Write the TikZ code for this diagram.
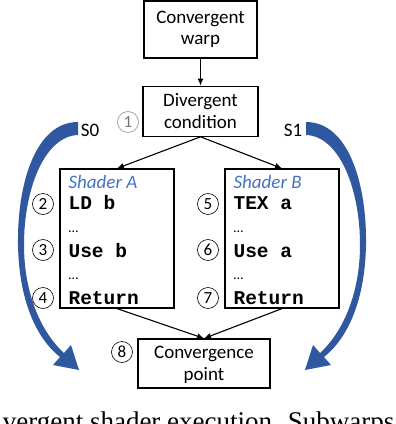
\documentclass[tikz,border=0pt]{standalone}
\usepackage{fontspec}
\setmainfont{Carlito}
\setmonofont{Liberation Mono}
\newfontfamily\capfont{Liberation Serif}
\usetikzlibrary{arrows.meta,positioning}
\definecolor{sgblue}{RGB}{47,88,160}
\definecolor{sglabel}{RGB}{68,114,196}
\newcommand{\subwarparc}{%
  \fill[sgblue] (78,122) .. controls (35,122) and (17,185) .. (18,245)
    .. controls (19,300) and (36,338) .. (60,357)
    -- (53,365) -- (79,370) -- (71,345) -- (64,353)
    .. controls (42,333) and (24,295) .. (24,245)
    .. controls (24,188) and (45,136) .. (78,135) -- cycle;}

\begin{document}
\begin{tikzpicture}[x=1pt,y=-1pt,>={Latex[length=7pt,width=6pt]},line width=1.1pt,
    every node/.style={font=\fontsize{19}{21.5}\selectfont},
    box/.style={draw,line width=1.2pt,align=center,inner sep=0pt},
    codeline/.style={anchor=base west,inner sep=0pt},
    stepnum/.style={circle,draw,line width=0.6pt,minimum size=21pt,inner sep=0pt,font=\fontsize{17}{17}\selectfont}]
    \useasboundingbox (0,0) rectangle (396,424);
    \clip (0,0) rectangle (396,424);
    % subwarp paths S0 and S1
    \subwarparc
    \begin{scope}[xshift=384pt,xscale=-1]
      \subwarparc
    \end{scope}
    \node (s0) at (90,130) {S0};
    \node (s1) at (293,130) {S1};
    \node[box,minimum width=113pt,minimum height=57pt] (cw) at (200.5,29.5) {Convergent\\warp};
    \node[box,minimum width=115pt,minimum height=50pt,below=27pt of cw] (dc) {Divergent\\condition};
    \node[stepnum,draw=black!45,text=black!55] (n1) at (128,122) {1};
    % the two shaders
    \foreach \s/\xx/\ld/\use/\na/\nb/\nc in {A/60/LD b/Use b/2/3/4,B/225/TEX a/Use a/5/6/7} {
      \node[box,minimum width=114pt,minimum height=139pt] (sh\s) at (\xx+57,238.5) {};
      \node[codeline,text=sglabel,font=\itshape\fontsize{19}{21.5}\selectfont] (sh\s-name) at (\xx+8,188) {Shader \s};
      \node[codeline,font=\ttfamily\bfseries\fontsize{19.5}{22}\selectfont] (sh\s-ld) at (\xx+8,209) {\ld};
      \node[codeline,font=\fontsize{14}{16}\selectfont] (sh\s-gap1) at (\xx+8,232) {…};
      \node[codeline,font=\ttfamily\bfseries\fontsize{19.5}{22}\selectfont] (sh\s-use) at (\xx+8,257) {\use};
      \node[codeline,font=\fontsize{14}{16}\selectfont] (sh\s-gap2) at (\xx+8,279) {…};
      \node[codeline,font=\ttfamily\bfseries\fontsize{19.5}{22}\selectfont] (sh\s-ret) at (\xx+8,304) {Return};
      \node[stepnum] (n\na) at (\xx-17,204) {\na};
      \node[stepnum] (n\nb) at (\xx-17,250) {\nb};
      \node[stepnum] (n\nc) at (\xx-17,298) {\nc};
    }
    \node[box,minimum width=132pt,minimum height=49pt,text depth=0pt] (conv) at (204,363.5) {Convergence\\point};
    \node[stepnum] (n8) at (122,352) {8};
    \draw[->] (cw)--(dc);
    \draw[->] (dc.south)--(shA.north);
    \draw[->] (dc.south)--(shB.north);
    \draw[->] (shA.south)--(conv.north);
    \draw[->] (shB.south)--(conv.north);
    \node[codeline,anchor=base east,font=\capfont\fontsize{27}{30}\selectfont] (cap) at (395,430) {vergent shader execution. Subwarps};
  \end{tikzpicture}
\end{document}
